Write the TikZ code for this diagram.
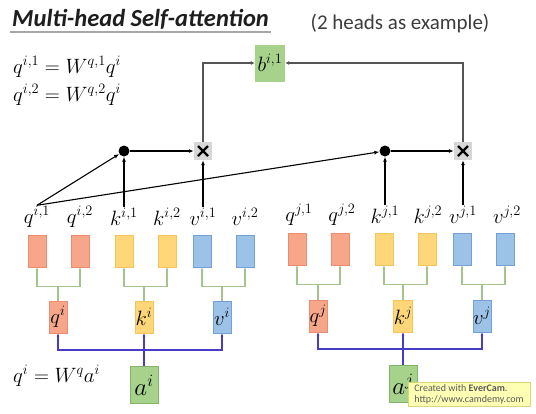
\documentclass[tikz,border=0pt]{standalone}
\usepackage{fontspec}
\usepackage{amsmath}
\newfontfamily\carlito{Carlito}
\usetikzlibrary{arrows.meta}
\pgfdeclarelayer{edgelayer}
\pgfdeclarelayer{nodelayer}
\pgfsetlayers{edgelayer,nodelayer,main}
\definecolor{qfill}{RGB}{248,166,138}
\definecolor{qline}{RGB}{236,140,110}
\definecolor{kfill}{RGB}{255,214,120}
\definecolor{kline}{RGB}{245,196,95}
\definecolor{vfill}{RGB}{156,194,232}
\definecolor{vline}{RGB}{115,160,215}
\definecolor{afill}{RGB}{166,210,140}
\definecolor{aline}{RGB}{130,180,105}
\definecolor{treeline}{RGB}{165,195,140}
\definecolor{feedline}{RGB}{70,60,200}
\definecolor{sumline}{RGB}{85,85,85}
\definecolor{multfill}{RGB}{215,215,215}
\definecolor{notefill}{RGB}{255,255,180}
\definecolor{noteline}{RGB}{215,215,120}
\definecolor{titletext}{RGB}{30,30,30}
\definecolor{subtext}{RGB}{60,60,60}
\tikzstyle{none}=[inner sep=0mm]
\tikzstyle{vec}=[minimum width=18pt,minimum height=32pt,inner sep=0pt,line width=0.8pt,font=\fontsize{22}{26}\selectfont]
\tikzstyle{qvec}=[vec,fill=qfill,draw=qline]
\tikzstyle{kvec}=[vec,fill=kfill,draw=kline]
\tikzstyle{vvec}=[vec,fill=vfill,draw=vline]
\tikzstyle{avec}=[minimum width=28pt,minimum height=37pt,inner sep=0pt,line width=0.8pt,fill=afill,draw=aline,font=\fontsize{23}{27}\selectfont]
\tikzstyle{bvec}=[minimum width=30pt,minimum height=37pt,inner sep=0pt,fill=afill,font=\fontsize{21}{24}\selectfont]
\tikzstyle{black dot}=[circle,fill=black,minimum size=11pt,inner sep=0pt]
\tikzstyle{mult}=[fill=multfill,minimum size=18pt,inner sep=0pt,
	path picture={\draw[line width=2.2pt] ([shift={(4pt,-4pt)}]path picture bounding box.north west) -- ([shift={(-4pt,4pt)}]path picture bounding box.south east);
		\draw[line width=2.2pt] ([shift={(-4pt,-4pt)}]path picture bounding box.north east) -- ([shift={(4pt,4pt)}]path picture bounding box.south west);}]
\tikzstyle{vec label}=[inner sep=1pt,font=\fontsize{22}{26}\selectfont]
\tikzstyle{eq}=[anchor=west,inner sep=0pt,font=\fontsize{20}{24}\selectfont]
\tikzstyle{dot edge}=[line width=1.1pt,-{Latex[length=5pt,width=4pt]}]
\tikzstyle{sum edge}=[draw=sumline,line width=1.6pt,-{Latex[length=4pt,width=4pt]}]
\tikzstyle{tree edge}=[draw=treeline,line width=1.6pt,-{Latex[length=3pt,width=3pt]}]
\tikzstyle{feed edge}=[draw=feedline,line width=1.6pt,-{Latex[length=3pt,width=3pt]}]

\begin{document}
\begin{tikzpicture}[x=1pt,y=-1pt]
	\useasboundingbox (0,0) rectangle (536,413);
	\begin{pgfonlayer}{nodelayer}
		\node [style=none, anchor=west, text=titletext, font={\carlito\bfseries\itshape\fontsize{24.5}{28}\selectfont}] (0) at (12, 19) {Multi-head Self-attention};
		\node [style=none, text=subtext, font={\carlito\fontsize{21}{24}\selectfont}] (1) at (400, 24) {(2 heads as example)};
		\node [style=eq] (2) at (13, 67) {$q^{i,1} = W^{q,1}q^{i}$};
		\node [style=eq] (3) at (13, 95) {$q^{i,2} = W^{q,2}q^{i}$};
		\node [style=eq] (4) at (13, 376) {$q^{i} = W^{q}a^{i}$};
		\node [style=bvec] (5) at (270, 63) {$b^{i,1}$};
		\node [style=black dot] (6) at (124, 151) {};
		\node [style=mult] (7) at (203, 151) {};
		\node [style=black dot] (8) at (385, 151) {};
		\node [style=mult] (9) at (463, 151) {};
		\node [style=vec label] (10) at (37, 217) {$q^{i,1}$};
		\node [style=vec label] (11) at (80, 217) {$q^{i,2}$};
		\node [style=vec label] (12) at (124, 217) {$k^{i,1}$};
		\node [style=vec label] (13) at (167, 217) {$k^{i,2}$};
		\node [style=vec label] (14) at (203, 217) {$v^{i,1}$};
		\node [style=vec label] (15) at (245, 217) {$v^{i,2}$};
		\node [style=vec label] (16) at (299, 215) {$q^{j,1}$};
		\node [style=vec label] (17) at (342, 215) {$q^{j,2}$};
		\node [style=vec label] (18) at (385, 215) {$k^{j,1}$};
		\node [style=vec label] (19) at (428, 215) {$k^{j,2}$};
		\node [style=vec label] (20) at (463, 215) {$v^{j,1}$};
		\node [style=vec label] (21) at (507, 215) {$v^{j,2}$};
		\node [style=qvec] (22) at (37, 251) {};
		\node [style=qvec] (23) at (80, 251) {};
		\node [style=kvec] (24) at (124, 251) {};
		\node [style=kvec] (25) at (167, 251) {};
		\node [style=vvec] (26) at (202, 251) {};
		\node [style=vvec] (27) at (245, 251) {};
		\node [style=qvec] (28) at (297, 249) {};
		\node [style=qvec] (29) at (340, 249) {};
		\node [style=kvec] (30) at (384, 249) {};
		\node [style=kvec] (31) at (427, 249) {};
		\node [style=vvec] (32) at (462, 249) {};
		\node [style=vvec] (33) at (505, 249) {};
		\node [style=qvec] (34) at (58, 317) {$q^{i}$};
		\node [style=kvec] (35) at (144, 317) {$k^{i}$};
		\node [style=vvec] (36) at (222, 317) {$v^{i}$};
		\node [style=qvec] (37) at (318, 316) {$q^{j}$};
		\node [style=kvec] (38) at (403, 316) {$k^{j}$};
		\node [style=vvec] (39) at (482, 316) {$v^{j}$};
		\node [style=avec] (40) at (144, 385) {$a^{i}$};
		\node [style=avec] (41) at (403, 384) {$a^{j}$};
	\end{pgfonlayer}
	\begin{pgfonlayer}{edgelayer}
		\draw [draw=gray!70, line width=1.8pt] ([shift={(-2,3)}]0.south west) -- ([shift={(2,3)}]0.south east);
		\draw [style=sum edge] (7.north) |- (5.west);
		\draw [style=sum edge] (9.north) |- (5.east);
		\draw [style=dot edge] (6) to (7);
		\draw [style=dot edge] (8) to (9);
		\draw [style=dot edge] (10.north) to (6);
		\draw [style=dot edge] (10.north) to (8);
		\draw [style=dot edge] (12.north) to (6);
		\draw [style=dot edge] (14.north) to (7);
		\draw [style=dot edge] (18.north) to (8);
		\draw [style=dot edge] (20.north) to (9);
		\draw [style=tree edge] (34.north) -- ++(0, -14) -| (22.south);
		\draw [style=tree edge] (34.north) -- ++(0, -14) -| (23.south);
		\draw [style=tree edge] (35.north) -- ++(0, -14) -| (24.south);
		\draw [style=tree edge] (35.north) -- ++(0, -14) -| (25.south);
		\draw [style=tree edge] (36.north) -- ++(0, -14) -| (26.south);
		\draw [style=tree edge] (36.north) -- ++(0, -14) -| (27.south);
		\draw [style=tree edge] (37.north) -- ++(0, -15) -| (28.south);
		\draw [style=tree edge] (37.north) -- ++(0, -15) -| (29.south);
		\draw [style=tree edge] (38.north) -- ++(0, -15) -| (30.south);
		\draw [style=tree edge] (38.north) -- ++(0, -15) -| (31.south);
		\draw [style=tree edge] (39.north) -- ++(0, -15) -| (32.south);
		\draw [style=tree edge] (39.north) -- ++(0, -15) -| (33.south);
		\draw [style=feed edge] (40.north) -- ++(0, -16) -| (34.south);
		\draw [style=feed edge] (40.north) -- ++(0, -16) -| (35.south);
		\draw [style=feed edge] (40.north) -- ++(0, -16) -| (36.south);
		\draw [style=feed edge] (41.north) -- ++(0, -16) -| (37.south);
		\draw [style=feed edge] (41.north) -- ++(0, -16) -| (38.south);
		\draw [style=feed edge] (41.north) -- ++(0, -16) -| (39.south);
	\end{pgfonlayer}
	\node [fill=notefill, draw=noteline, line width=0.6pt, minimum width=122pt, minimum height=24pt, inner sep=2pt, align=left, text=gray!70!black, font={\carlito\fontsize{10}{11}\selectfont}] (42) at (469, 394) {Created with \textbf{EverCam}.\\http://www.camdemy.com};
\end{tikzpicture}
\end{document}
